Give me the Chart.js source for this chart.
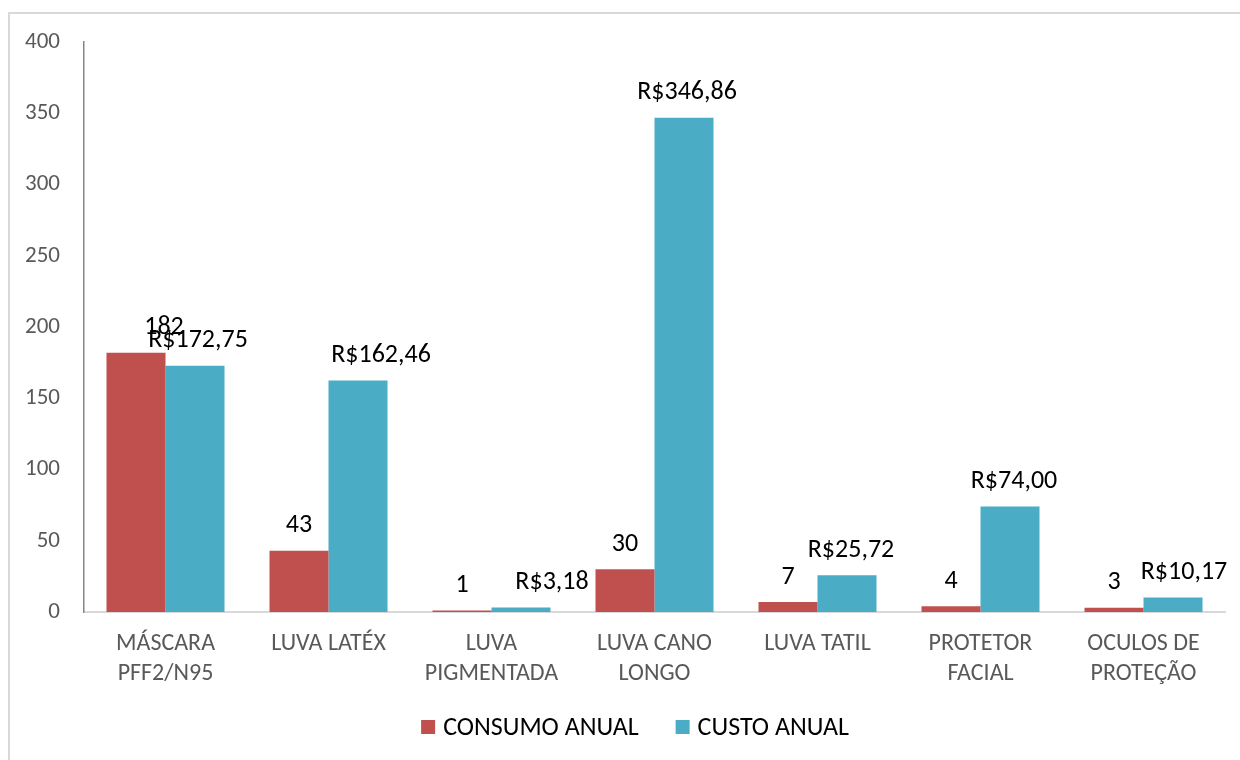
<!DOCTYPE html>
<html>
<head>
<meta charset="utf-8">
<script src="https://cdn.jsdelivr.net/npm/chart.js@4.4.1/dist/chart.umd.min.js"></script>
<style>
  html, body { margin: 0; padding: 0; background: #fff; overflow: hidden; }
  #frame { position: absolute; left: 8px; top: 12px; width: 1300px; height: 800px; border: 2px solid #d9d9d9; box-sizing: border-box; }
  #wrap { position: absolute; left: 0; top: 0; width: 1240px; height: 760px; }
</style>
</head>
<body>
<div id="frame"></div>
<div id="wrap"><canvas id="c" width="1240" height="760"></canvas></div>
<script>
const categories = [
  ['MÁSCARA', 'PFF2/N95'],
  ['LUVA LATÉX'],
  ['LUVA', 'PIGMENTADA'],
  ['LUVA CANO', 'LONGO'],
  ['LUVA TATIL'],
  ['PROTETOR', 'FACIAL'],
  ['OCULOS DE', 'PROTEÇÃO']
];
const seriesNames = ['CONSUMO ANUAL', 'CUSTO ANUAL'];
const consumoAnual = [182, 43, 1, 30, 7, 4, 3];
const custoAnual = [172.75, 162.46, 3.18, 346.86, 25.72, 74.00, 10.17];
const yTicks = [0, 50, 100, 150, 200, 250, 300, 350, 400];

const FONT = 'Carlito, Lato, "Open Sans", sans-serif';
const colors = ['#C0504D', '#4BACC6'];

function fmtValue(dsIndex, v) {
  if (dsIndex === 1) return 'R$' + v.toFixed(2).replace('.', ',');
  return String(v);
}

const labelPlugin = {
  id: 'valueLabels',
  afterDatasetsDraw(chart, args, opts) {
    const ctx = chart.ctx;
    ctx.save();
    ctx.font = opts.fontSize + 'px ' + FONT;
    ctx.fillStyle = '#000';
    ctx.textAlign = 'center';
    ctx.textBaseline = 'middle';
    chart.data.datasets.forEach((ds, di) => {
      const meta = chart.getDatasetMeta(di);
      meta.data.forEach((bar, i) => {
        const dx = (opts.dx[di] && opts.dx[di][i]) || 0;
        ctx.fillText(fmtValue(di, ds.data[i]), bar.x + dx, bar.y - opts.gap);
      });
    });
    ctx.restore();
  }
};

const legendPlugin = {
  id: 'customLegend',
  afterDraw(chart, args, opts) {
    const ctx = chart.ctx;
    ctx.save();
    ctx.font = opts.fontSize + 'px ' + FONT;
    ctx.textBaseline = 'middle';
    ctx.textAlign = 'left';
    const items = chart.data.datasets.map(d => ({ text: d.label, color: d.backgroundColor }));
    const widths = items.map(it => opts.box + opts.boxGap + ctx.measureText(it.text).width);
    const total = widths.reduce((a, b) => a + b, 0) + opts.itemGap * (items.length - 1);
    let x = opts.cx - total / 2;
    const y = opts.y;
    items.forEach((it, i) => {
      ctx.fillStyle = it.color;
      ctx.fillRect(x, y - opts.box / 2, opts.box, opts.box);
      ctx.fillStyle = '#000';
      ctx.fillText(it.text, x + opts.box + opts.boxGap, y + 1);
      x += widths[i] + opts.itemGap;
    });
    ctx.restore();
  }
};

new Chart(document.getElementById('c'), {
  type: 'bar',
  data: {
    labels: categories,
    datasets: [
      { label: seriesNames[0], data: consumoAnual, backgroundColor: colors[0], borderWidth: 0 },
      { label: seriesNames[1], data: custoAnual, backgroundColor: colors[1], borderWidth: 0 }
    ]
  },
  options: {
    responsive: false,
    animation: false,
    events: [],
    layout: { padding: { left: 0, right: 15, top: 42, bottom: 48 } },
    plugins: {
      legend: { display: false },
      tooltip: { enabled: false },
      valueLabels: {
        fontSize: 26,
        gap: 25,
        dx: [[28, 0, 0, 0, 0, 0, 0], [3, 23, 31, 3, 4, 4, 11]]
      },
      customLegend: { fontSize: 26, box: 14, boxGap: 8, itemGap: 37, y: 727, cx: 635 }
    },
    datasets: { bar: { categoryPercentage: 0.724, barPercentage: 1.0 } },
    scales: {
      x: {
        grid: { display: false, drawTicks: false },
        border: { display: true, color: '#d9d9d9', width: 2 },
        ticks: {
          color: '#595959',
          font: { family: FONT, size: 24, lineHeight: 1.25 },
          padding: 17,
          maxRotation: 0,
          autoSkip: false
        },
        afterFit(scale) { scale.height = 100; }
      },
      y: {
        min: 0,
        max: 400,
        afterBuildTicks(scale) { scale.ticks = yTicks.map(v => ({ value: v })); },
        grid: { display: false, drawTicks: false },
        border: { display: true, color: '#868686', width: 1.5 },
        ticks: {
          color: '#595959',
          font: { family: FONT, size: 23 },
          padding: 24
        },
        afterFit(scale) { scale.width = 84; }
      }
    }
  },
  plugins: [labelPlugin, legendPlugin]
});
</script>
</body>
</html>
